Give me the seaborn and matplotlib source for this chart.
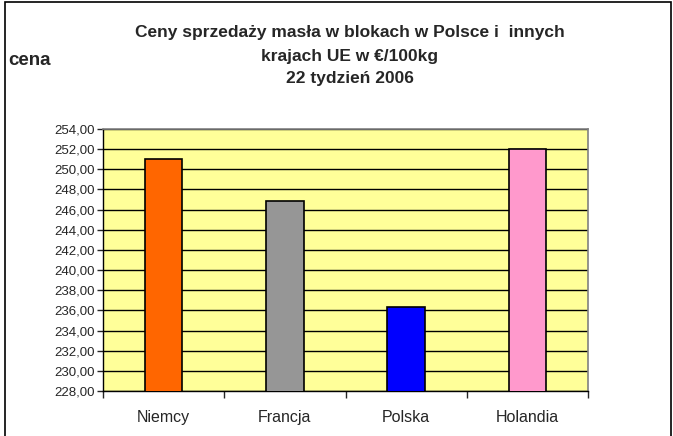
import matplotlib
matplotlib.use("Agg")
import matplotlib.pyplot as plt
import seaborn as sns
import pandas as pd
from matplotlib.ticker import FuncFormatter, MultipleLocator
from matplotlib.patches import Rectangle

# dane z wykresu
kraje = ["Niemcy", "Francja", "Polska", "Holandia"]
ceny = [251.0, 246.9, 236.35, 252.0]
kolory = ["#FF6600", "#969696", "#0000FF", "#FF99CC"]

df = pd.DataFrame({"kraj": kraje, "cena": ceny})

sns.set_theme(style="white")
plt.rcParams["font.family"] = ["Liberation Sans", "DejaVu Sans"]

fig = plt.figure(figsize=(6.73, 4.36), dpi=100)
W, H = 673, 436
ax = fig.add_axes([103 / W, 1 - 391 / H, (588 - 103) / W, (391 - 129) / H])

sns.barplot(data=df, x="kraj", y="cena", hue="kraj", palette=kolory,
            saturation=1, width=0.31, edgecolor="black", linewidth=1.2,
            legend=False, ax=ax, zorder=3)

ax.set_facecolor("#FFFF99")
ax.set_ylim(228, 254)
ax.set_xlim(-0.5, 3.5)
ax.yaxis.set_major_locator(MultipleLocator(2))
ax.yaxis.set_major_formatter(FuncFormatter(lambda v, p: f"{v:.2f}".replace(".", ",")))
ax.grid(axis="y", color="black", linewidth=1.0, zorder=0)
ax.set_axisbelow(True)

# krawedzie obszaru wykresu
for s in ["top", "right"]:
    ax.spines[s].set_color("#808080")
    ax.spines[s].set_linewidth(1.2)
for s in ["left", "bottom"]:
    ax.spines[s].set_color("black")
    ax.spines[s].set_linewidth(1.0)

ax.set_xlabel("")
ax.set_ylabel("")
ax.tick_params(axis="y", direction="out", length=4, width=1, labelsize=9.5, pad=2, left=True)
ax.tick_params(axis="x", length=0, labelsize=11.5, pad=14)
# znaczniki miedzy kategoriami
ax.set_xticks([-0.5, 0.5, 1.5, 2.5, 3.5], minor=True)
ax.tick_params(axis="x", which="minor", direction="out", length=5, width=1, bottom=True)

tytul = ["Ceny sprzedaży masła w blokach w Polsce i  innych",
         "krajach UE w €/100kg",
         "22 tydzień 2006"]
for y, t in zip([32, 56, 79], tytul):
    fig.text(350 / W, 1 - y / H, t, ha="center", va="center",
             fontsize=12.5, fontweight="bold")
fig.text(8 / W, 1 - 60 / H, "cena", ha="left", va="center",
         fontsize=13.5, fontweight="bold")

# ramka calego wykresu
fig.patches.append(Rectangle((5 / W, -0.05), (671 - 5) / W, 1 - 2 / H + 0.05,
                             transform=fig.transFigure, fill=False,
                             edgecolor="black", linewidth=1.2))

fig.savefig("out.png", dpi=100)
